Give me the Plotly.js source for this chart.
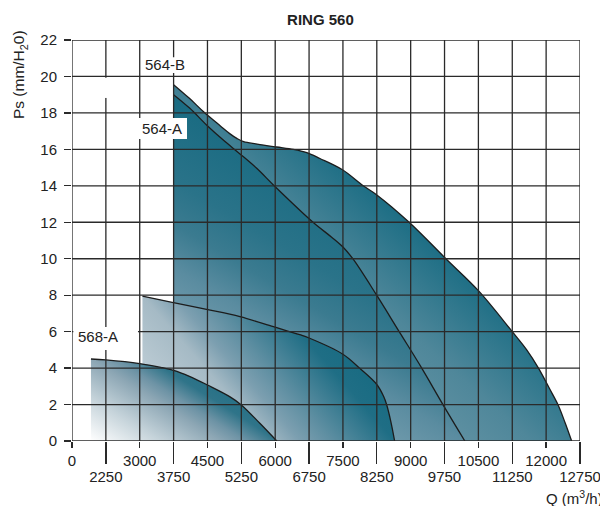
<!DOCTYPE html>
<html>
<head>
<meta charset="utf-8">
<script src="https://cdn.plot.ly/plotly-3.0.1.min.js"></script>
<style>
  html, body { margin: 0; padding: 0; background: #fff; }
  #chart { width: 600px; height: 506px; }
</style>
</head>
<body>
<div id="chart"></div>
<script>
// ---- data ----
var q564B  = [3750, 4100, 4420, 4780, 5000, 5150, 5300, 5600, 6030, 6400, 6700, 6990, 7490, 7950, 8250, 8966, 9780, 10500, 11250, 11570, 11830, 12080, 12270, 12420, 12565];
var ps564B = [19.55, 18.8, 18.05, 17.3, 16.85, 16.6, 16.42, 16.29, 16.13, 16.0, 15.82, 15.5, 14.88, 14.0, 13.5, 12.0, 10.0, 8.25, 6.0, 5.0, 4.0, 2.85, 1.95, 1.0, 0];

var q564A  = [3750, 4110, 4480, 4850, 5220, 5590, 6000, 6838, 7250, 7500, 7719, 8247, 8746, 9245, 9715, 10200];
var ps564A = [19.0, 18.25, 17.34, 16.51, 15.75, 14.96, 13.95, 12.0, 11.18, 10.64, 10.0, 8.0, 6.0, 4.0, 2.0, 0];

var q566   = [3060, 3745, 4480, 5220, 5960, 6544, 6750, 7500, 7866, 8250, 8400, 8467, 8563, 8645];
var ps566  = [7.95, 7.59, 7.22, 6.82, 6.27, 5.83, 5.65, 4.76, 4.0, 3.1, 2.45, 2.0, 1.04, 0];

var q568A  = [1920, 2250, 3000, 3500, 3750, 4100, 4500, 5000, 5250, 5660, 6035];
var ps568A = [4.5, 4.45, 4.25, 4.02, 3.88, 3.55, 3.07, 2.42, 1.98, 0.97, 0];

var xTickRow1 = [1500, 3000, 4500, 6000, 7500, 9000, 10500, 12000];
var xTextRow1 = ['0', '3000', '4500', '6000', '7500', '9000', '10500', '12000'];
var xTickRow2 = [2250, 3750, 5250, 6750, 8250, 9750, 11250, 12750];
var xTextRow2 = ['2250', '3750', '5250', '6750', '8250', '9750', '11250', '12750'];
var yTicks    = [0, 2, 4, 6, 8, 10, 12, 14, 16, 18, 20, 22];

var curveLabels = ['564-B', '564-A', '568-A'];
var labelX = [3559, 3493, 2076];
var labelY = [20.63, 17.12, 5.71];

// ---- styling ----
var FONT = 'Liberation Sans, Arial, Helvetica, sans-serif';
var INK = '#222222';
var GRID = '#2a2a2a';

function area(x, y, scale) {
  return {
    type: 'scatter', x: x, y: y, mode: 'lines',
    fill: 'tozeroy',
    fillgradient: { type: 'horizontal', colorscale: scale },
    line: { color: '#1c1c1c', width: 1.3, shape: 'spline', smoothing: 1.0 },
    hoverinfo: 'skip', showlegend: false
  };
}

var traces = [
  area(q564B, ps564B, [[0, '#9ab4c1'], [0.45, '#4f879a'], [0.62, '#176b82'], [1, '#0f6680']]),
  area(q564A, ps564A, [[0, '#a9bfca'], [0.4, '#5a8ca0'], [0.5, '#3b7b90'], [0.6, '#2a7389'], [0.8, '#196b82'], [1, '#136980']]),
  area(q566,  ps566,  [[0, '#d3dde3'], [0.4, '#a5bac5'], [0.5, '#7c9fb0'], [0.6, '#5f8fa2'], [0.8, '#1f6e85'], [1, '#136980']]),
  area(q568A, ps568A, [[0, '#ffffff'], [0.25, '#c5d3da'], [0.47, '#8ca6b4'], [0.56, '#6d93a5'], [0.68, '#2f7489'], [1, '#136980']]),
  { type: 'scatter', x: [xTickRow2[0]], y: [0], xaxis: 'x2', mode: 'markers',
    marker: { opacity: 0, size: 1 }, hoverinfo: 'skip', showlegend: false }
];

// gridlines drawn above the filled areas, as in the reference
var shapes = [];
for (var gx = 1500; gx <= 12750; gx += 750) {
  shapes.push({ type: 'line', xref: 'x', yref: 'y', x0: gx, x1: gx, y0: 0, y1: 22,
    layer: 'above', line: { color: GRID, width: 1.3 } });
}
yTicks.forEach(function (gy) {
  shapes.push({ type: 'line', xref: 'x', yref: 'y', x0: 1500, x1: 12750, y0: gy, y1: gy,
    layer: 'above', line: { color: GRID, width: 1.3 } });
});
// white label boxes that break the grid
[[3050, 4070, 20.19, 21.06], [2939, 4047, 16.57, 17.72], [1530, 2961, 4.99, 6.25], [2150, 2350, 18.82, 19.93]]
  .forEach(function (b) {
    shapes.push({ type: 'rect', xref: 'x', yref: 'y', x0: b[0], x1: b[1], y0: b[2], y1: b[3],
      layer: 'above', fillcolor: '#ffffff', line: { width: 0 } });
  });

var annotations = curveLabels.map(function (t, i) {
  return { text: t, x: labelX[i], y: labelY[i], xref: 'x', yref: 'y', showarrow: false,
    xanchor: 'center', yanchor: 'middle', font: { family: FONT, size: 15, color: INK } };
});
annotations.push({ text: 'Ps (mm/H<sub>2</sub>0)', xref: 'paper', yref: 'paper',
  x: -0.102, y: 0.913, textangle: -90, showarrow: false, xanchor: 'center', yanchor: 'middle',
  font: { family: FONT, size: 15.5, color: INK } });
annotations.push({ text: 'Q (m<sup>3</sup>/h)', xref: 'paper', yref: 'paper',
  x: 0.929, y: -0.1397, showarrow: false, xanchor: 'left', yanchor: 'middle',
  font: { family: FONT, size: 15, color: INK } });

var layout = {
  width: 600, height: 506,
  margin: { l: 72, r: 20, t: 40, b: 65, pad: 0 },
  paper_bgcolor: '#ffffff', plot_bgcolor: '#ffffff',
  showlegend: false,
  title: { text: '<b>RING 560</b>', x: 0.534, xref: 'container', y: 1 - 19.5 / 506, yanchor: 'middle',
    font: { family: FONT, size: 15, color: INK } },
  xaxis: {
    range: [1500, 12750], tickmode: 'array', tickvals: xTickRow1, ticktext: xTextRow1,
    ticks: 'outside', ticklen: 6, tickwidth: 1.3, tickcolor: GRID,
    showgrid: false, zeroline: false, showline: false, fixedrange: true,
    ticklabeloverflow: 'allow',
    tickfont: { family: FONT, size: 15, color: INK }
  },
  xaxis2: {
    overlaying: 'x', anchor: 'y', side: 'bottom',
    range: [1500, 12750], tickmode: 'array', tickvals: xTickRow2, ticktext: xTextRow2,
    ticks: 'outside', ticklen: 22, tickwidth: 1.3, tickcolor: GRID,
    showgrid: false, zeroline: false, showline: false, fixedrange: true,
    ticklabeloverflow: 'allow',
    tickfont: { family: FONT, size: 15, color: INK }
  },
  yaxis: {
    range: [0, 22], tickmode: 'array', tickvals: yTicks,
    ticks: 'outside', ticklen: 7, tickwidth: 1.3, tickcolor: GRID,
    ticklabelstandoff: 4,
    showgrid: false, zeroline: false, showline: false, fixedrange: true,
    tickfont: { family: FONT, size: 15, color: INK }
  },
  shapes: shapes,
  annotations: annotations
};

// gradient directions (dark end -> light end), in bounding-box units
var gradVec = [[1, 0, 0, 1], [0.5, 0, 0, 1], [1, 0.5, 0, 1], [1, 0.3, 0, 1]];

var gd = document.getElementById('chart');
Plotly.newPlot(gd, traces, layout, { staticPlot: true, displayModeBar: false }).then(function () {
  var fills = gd.querySelectorAll('.scatterlayer .trace path.js-fill');
  fills.forEach(function (p, i) {
    var f = p.style.fill || p.getAttribute('fill') || '';
    var k = f.lastIndexOf('#');
    if (k < 0) return;
    var id = f.slice(k + 1).replace(/["')\s]/g, '');
    var g = document.getElementById(id);
    if (!g || !gradVec[i]) return;
    var v = gradVec[i];
    g.setAttribute('gradientUnits', 'objectBoundingBox');
    g.removeAttribute('gradientTransform');
    g.setAttribute('x1', v[0]); g.setAttribute('y1', v[1]);
    g.setAttribute('x2', v[2]); g.setAttribute('y2', v[3]);
  });
});
</script>
</body>
</html>
